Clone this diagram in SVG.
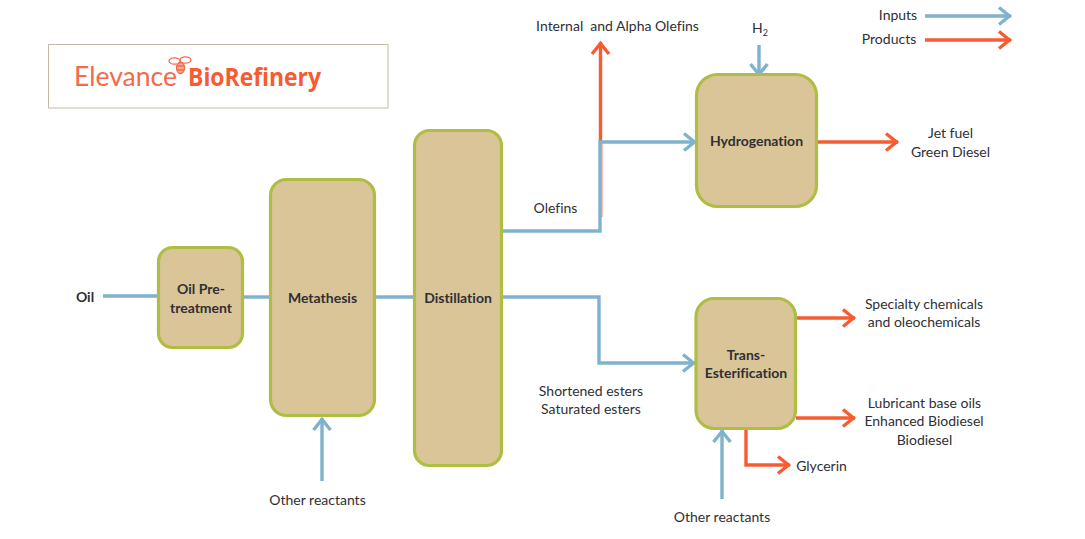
<svg xmlns="http://www.w3.org/2000/svg" width="1085" height="539" viewBox="0 0 1085 539">
<style>
text{font-family:Lato,"Liberation Sans",sans-serif;font-size:14px;fill:#2f2f35;text-anchor:middle;font-variant-ligatures:none;white-space:pre}
.b{font-weight:700}
.box{fill:#d9c598;stroke:#afbd45;stroke-width:3.2}
.in,.out{fill:none;stroke-width:3.4;stroke-linejoin:miter}
.in{stroke:#7fb2cd}
.out{stroke:#f65c32}
</style>
<defs>
<marker id="ai" markerUnits="userSpaceOnUse" markerWidth="22" markerHeight="24" refX="18" refY="12" orient="auto" overflow="visible"><path d="M6 3.500 L16.500 12 L6 20.500" fill="none" stroke="#7fb2cd" stroke-width="3.4"/></marker>
<marker id="ao" markerUnits="userSpaceOnUse" markerWidth="22" markerHeight="24" refX="18" refY="12" orient="auto" overflow="visible"><path d="M6 3.500 L16.500 12 L6 20.500" fill="none" stroke="#f65c32" stroke-width="3.4"/></marker>
</defs>
<g id="logo">
<rect x="48.500" y="44.500" width="339.500" height="63.500" fill="#fff" stroke="#c4bca6" stroke-width="1"/>
<text x="74" y="86" textLength="103" lengthAdjust="spacingAndGlyphs" style="font-size:26px;font-weight:400;fill:#f4694a;text-anchor:start">Elevance</text>
<text x="188" y="86" style="font-size:24.500px;font-weight:700;fill:#f65c32;text-anchor:start;font-family:'Open Sans',sans-serif" textLength="133" lengthAdjust="spacingAndGlyphs">BioRefinery</text>
<g fill="none" stroke="#f4694a" stroke-width="1.300">
<ellipse cx="174.500" cy="61" rx="5.500" ry="3.200"/>
<ellipse cx="185.500" cy="60" rx="5.500" ry="3.200"/>
<ellipse cx="180.500" cy="68" rx="4" ry="5.500" fill="#f9a98f"/>
<path d="M176.500 66H184.500M177 70H184"/>
</g>
</g>
<g id="connectors">
<path class="in" d="M103 296H158"/>
<path class="in" d="M243 297H270"/>
<path class="in" d="M375 297H414"/>
<path class="out" d="M600.500 142V42" marker-end="url(#ao)"/>
<path d="M601.500 142V217" fill="none" stroke="#f65c32" stroke-opacity=".5" stroke-width="2.500"/>
<path class="in" d="M502 231H600V142H696" marker-end="url(#ai)"/>
<path class="in" d="M502 297H599V363H695" marker-end="url(#ai)"/>
<path class="in" d="M322 481V418" marker-end="url(#ai)"/>
<path class="in" d="M759 45V76" marker-end="url(#ai)"/>
<path class="out" d="M818 142H898" marker-end="url(#ao)"/>
<path class="out" d="M796 318H855" marker-end="url(#ao)"/>
<path class="out" d="M796 418H855" marker-end="url(#ao)"/>
<path class="out" d="M746 428V465H790" marker-end="url(#ao)"/>
<path class="in" d="M722 499V430" marker-end="url(#ai)"/>
<path class="in" d="M925 16H1011" marker-end="url(#ai)"/>
<path class="out" d="M925 40H1011" marker-end="url(#ao)"/>
</g>
<g id="oil-pretreatment"><rect class="box" x="158.500" y="247.500" width="84" height="100" rx="14"/><text class="b" x="201" y="294">Oil Pre-</text><text class="b" x="201" y="313">treatment</text></g>
<g id="metathesis"><rect class="box" x="270.500" y="179.500" width="104" height="236" rx="16"/><text class="b" x="322.500" y="303">Metathesis</text></g>
<g id="distillation"><rect class="box" x="414.500" y="130.500" width="87" height="335" rx="15"/><text class="b" x="458" y="303">Distillation</text></g>
<g id="hydrogenation"><rect class="box" x="696.500" y="74.500" width="120" height="132" rx="21"/><text class="b" x="756.500" y="146">Hydrogenation</text></g>
<g id="trans-esterification"><rect class="box" x="696" y="298.500" width="99.500" height="130" rx="18"/><text class="b" x="746" y="360">Trans-</text><text class="b" x="746" y="378">Esterification</text></g>
<g id="labels">
<text class="b" x="85" y="302">Oil</text>
<text x="617.500" y="31">Internal  and Alpha Olefins</text>
<text x="760" y="33">H<tspan dy="3" style="font-size:9px">2</tspan></text>
<text x="555.500" y="213">Olefins</text>
<text x="950.500" y="138">Jet fuel</text>
<text x="950.500" y="157">Green Diesel</text>
<text x="898" y="20">Inputs</text>
<text x="889" y="44">Products</text>
<text x="924" y="309">Specialty chemicals</text>
<text x="924" y="327">and oleochemicals</text>
<text x="924.500" y="408">Lubricant base oils</text>
<text x="924" y="426">Enhanced Biodiesel</text>
<text x="924.500" y="445">Biodiesel</text>
<text x="821.500" y="471">Glycerin</text>
<text x="591" y="396">Shortened esters</text>
<text x="591" y="414">Saturated esters</text>
<text x="317.500" y="505">Other reactants</text>
<text x="722" y="522">Other reactants</text>
</g>
</svg>
